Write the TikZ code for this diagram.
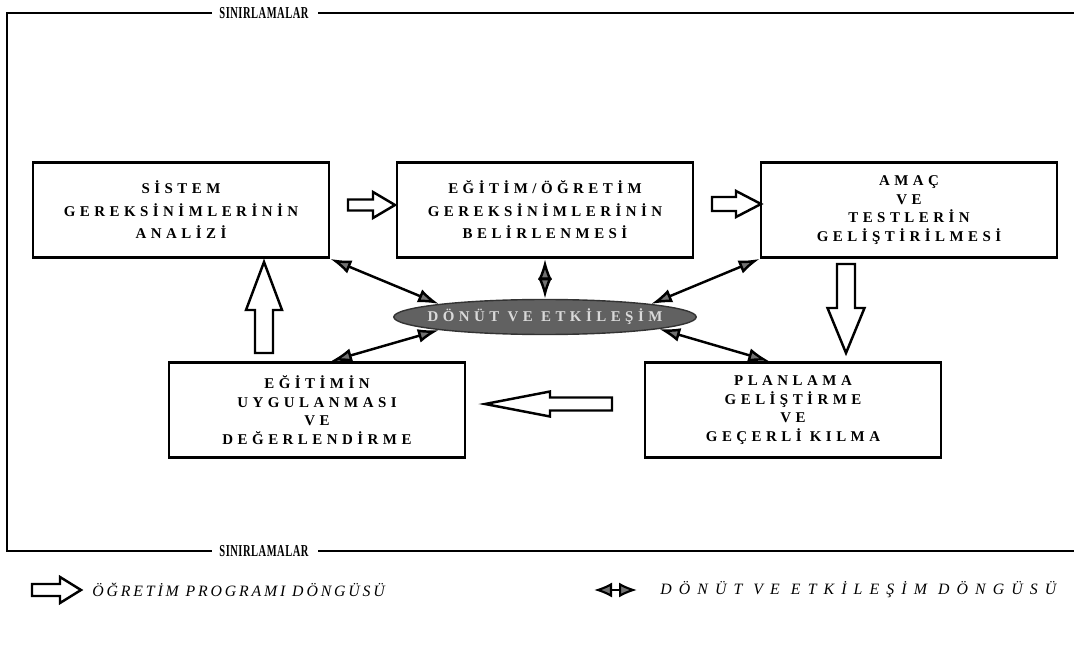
\documentclass[tikz,border=0pt]{standalone}
\usepackage{fontspec}
\setmainfont{Liberation Serif}
\newfontfamily\boxFont[LetterSpace=30]{Liberation Serif}
\newfontfamily\limitFont[LetterSpace=3,FakeStretch=0.63]{Liberation Serif}
\newfontfamily\legendFont[LetterSpace=18]{Liberation Serif}
\newfontfamily\legendFontWide[LetterSpace=45]{Liberation Serif}
\usetikzlibrary{shapes.geometric,arrows.meta}

\begin{document}
\begin{tikzpicture}[x=0.02cm, y=-0.02cm]
  \tikzstyle{stepBox} = [draw=black, line width=1.6pt, fill=white, minimum width=5.92cm,
                         minimum height=1.9cm, align=center, inner sep=0pt,
                         font=\boxFont\bfseries\fontsize{8.5}{12.8}\selectfont]
  \tikzstyle{stepBoxFour} = [stepBox, font=\boxFont\bfseries\fontsize{8.5}{10.6}\selectfont]
  \tikzstyle{cycleArrow} = [draw=black, line width=1.4pt, fill=white, line join=miter]
  \tikzstyle{feedEdge} = [draw=black, line width=1.4pt,
                          {Latex[length=0.42cm,width=0.28cm,fill=black!55]}-{Latex[length=0.42cm,width=0.28cm,fill=black!55]}]
  \tikzstyle{feedKey} = [draw=black, line width=1.2pt,
                         {Latex[length=0.36cm,width=0.3cm,fill=black!55]}-{Latex[length=0.36cm,width=0.3cm,fill=black!55]}]
  \tikzstyle{limitLabel} = [font=\limitFont\bfseries\fontsize{9.5}{10}\selectfont, inner sep=0pt]
  \tikzstyle{legendLabel} = [anchor=west, inner sep=0pt]

  \useasboundingbox (0,0) rectangle (1074,665);

  % frame with the two labels
  \node[limitLabel] (topLim) at (264,13) {SINIRLAMALAR};
  \node[limitLabel] (botLim) at (264,551) {SINIRLAMALAR};
  \draw[line width=1.3pt] (212,13) -- (7,13) -- (7,551) -- (212,551);
  \draw[line width=1.3pt] (318,13) -- (1074,13);
  \draw[line width=1.3pt] (318,551) -- (1074,551);

  % steps of the cycle
  \node[stepBox] (sys) at (181,210) {SİSTEM\\GEREKSİNİMLERİNİN\\ANALİZİ};
  \node[stepBox] (egt) at (545,210) {EĞİTİM/ÖĞRETİM\\GEREKSİNİMLERİNİN\\BELİRLENMESİ};
  \node[stepBoxFour] (goal) at (909,210) {AMAÇ\\VE\\TESTLERİN\\GELİŞTİRİLMESİ};
  \node[stepBoxFour] (plan) at (793,410) {PLANLAMA\\GELİŞTİRME\\VE\\GEÇERLİ KILMA};
  \node[stepBoxFour] (apply) at (317,410) {EĞİTİMİN\\UYGULANMASI\\VE\\DEĞERLENDİRME};

  % feedback
  \node[ellipse, draw=black!80, line width=0.8pt, fill=black!62, minimum width=6.05cm,
        minimum height=0.7cm, inner sep=0pt,
        label={[text=white!85!black, font=\boxFont\bfseries\fontsize{8.5}{10}\selectfont]center:DÖNÜT VE ETKİLEŞİM}]
        (fb) at (545,317) {};

  % program cycle
  \draw[cycleArrow] (348,199.5) -- (373,199.5) -- (373,192) -- (395,205) -- (373,218)
                    -- (373,210.5) -- (348,210.5) -- cycle;
  \draw[cycleArrow] (712,197) -- (736,197) -- (736,191) -- (761,204) -- (736,217)
                    -- (736,211) -- (712,211) -- cycle;
  \draw[cycleArrow] (837,264) -- (837,308) -- (827.5,308) -- (846,353) -- (864.5,308)
                    -- (855,308) -- (855,264) -- cycle;
  \draw[cycleArrow] (612,397.5) -- (550,397.5) -- (550,391.5) -- (485,404) -- (550,416.5)
                    -- (550,410.5) -- (612,410.5) -- cycle;
  \draw[cycleArrow] (255,353) -- (255,310) -- (246,310) -- (264,262) -- (282,310)
                    -- (273,310) -- (273,353) -- cycle;

  \draw[feedEdge] (sys.south east) -- (fb.173);
  \draw[feedEdge] (egt.south) -- (fb.north);
  \draw[feedEdge] (goal.south west) -- (fb.7);
  \draw[feedEdge] (apply.74) -- (fb.187);
  \draw[feedEdge] (plan.116) -- (fb.354);

  % legend
  \draw[cycleArrow] (32,584) -- (60,584) -- (60,577) -- (81,590) -- (60,603)
                    -- (60,596) -- (32,596) -- cycle;
  \node[legendLabel, font=\legendFont\itshape\fontsize{9}{10}\selectfont] (legAText) at (92,590)
        {ÖĞRETİM PROGRAMI DÖNGÜSÜ};
  \coordinate (legL) at (594,590);
  \coordinate (legR) at (637,590);
  \draw[feedKey] (legL) -- (legR);
  \node[legendLabel, font=\legendFontWide\itshape\fontsize{9}{10}\selectfont] (legBText) at (660,590)
        {DÖNÜT VE ETKİLEŞİM DÖNGÜSÜ};
\end{tikzpicture}
\end{document}
